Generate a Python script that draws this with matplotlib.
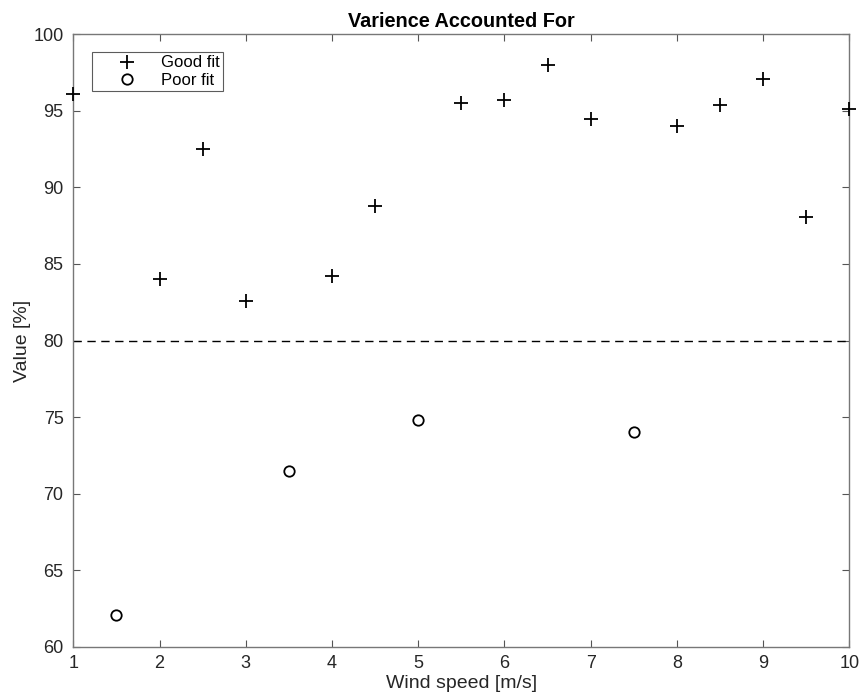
import matplotlib
matplotlib.use("Agg")
from matplotlib import pyplot as plt

plt.rcParams['font.family'] = ['Liberation Sans', 'DejaVu Sans']

# wind speed [m/s] and variance accounted for [%]
good_x = [1, 2, 2.5, 3, 4, 4.5, 5.5, 6, 6.5, 7, 8, 8.5, 9, 9.5, 10]
good_y = [96.1, 84.0, 92.5, 82.6, 84.2, 88.8, 95.5, 95.7, 98.0, 94.5, 94.0, 95.4, 97.1, 88.1, 95.1]
poor_x = [1.5, 3.5, 5, 7.5]
poor_y = [62.1, 71.5, 74.8, 74.0]
threshold = 80

fig = plt.figure(figsize=(8.63, 6.96), dpi=100)
ax = fig.add_axes([0.0849, 0.0708, 0.8993, 0.8799])

ax.plot(good_x, good_y, '+', color='black', markersize=10, markeredgewidth=1.3,
        linestyle='none', label='Good fit', clip_on=False, zorder=3)
ax.plot(poor_x, poor_y, 'o', markerfacecolor='none', markeredgecolor='black',
        markersize=7.5, markeredgewidth=1.3, linestyle='none', label='Poor fit', zorder=3)
ax.plot([1, 10], [threshold, threshold], '--', color='black', linewidth=1.0,
        dashes=(6, 4))

ax.set_xlim(1, 10)
ax.set_ylim(60, 100)
ax.set_xticks(range(1, 11))
ax.set_yticks(range(60, 101, 5))

for s in ax.spines.values():
    s.set_color('#777777')
    s.set_linewidth(1.0)
ax.tick_params(direction='in', top=True, right=True, length=5, width=0.8,
               color='#555555', labelcolor='#262626', labelsize=13)
ax.tick_params(axis='x', pad=6)
ax.tick_params(axis='y', pad=7)

ax.set_title('Varience Accounted For', fontsize=14.3, fontweight='bold', pad=5)
ax.set_xlabel('Wind speed [m/s]', fontsize=14, color='#262626', labelpad=2)
ax.set_ylabel('Value [%]', fontsize=14, color='#262626', labelpad=2)

leg = ax.legend(loc='upper left', bbox_to_anchor=(0.0237, 0.971), borderaxespad=0,
                fontsize=12, frameon=True, fancybox=False, handlelength=3.9,
                handletextpad=0.05, borderpad=0.2, labelspacing=0.15)
leg.get_frame().set_edgecolor('#333333')
leg.get_frame().set_linewidth(0.8)

fig.savefig('out.png', dpi=100)
